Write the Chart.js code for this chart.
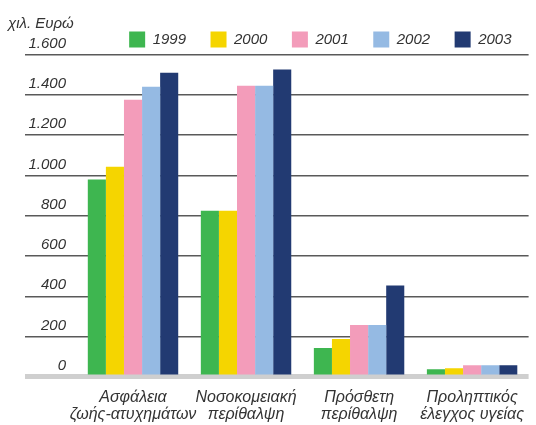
<!DOCTYPE html>
<html>
<head>
<meta charset="utf-8">
<script src="https://cdn.jsdelivr.net/npm/chart.js@4/dist/chart.umd.min.js"></script>
<style>
  html, body { margin: 0; padding: 0; background: #fff; }
  #wrap { width: 536px; height: 425px; position: relative; }
</style>
</head>
<body>
<div id="wrap"><canvas id="c"></canvas></div>
<script>
const categories = [
  ["Ασφάλεια", "ζωής-ατυχημάτων"],
  ["Νοσοκομειακή", "περίθαλψη"],
  ["Πρόσθετη", "περίθαλψη"],
  ["Προληπτικός", "έλεγχος υγείας"]
];
const years = ["1999", "2000", "2001", "2002", "2003"];
const values1999 = [980, 825, 143, 38];
const values2000 = [1043, 825, 188, 43];
const values2001 = [1375, 1445, 258, 58];
const values2002 = [1440, 1445, 258, 58];
const values2003 = [1510, 1525, 453, 58];
const yTicks = [0, 200, 400, 600, 800, 1000, 1200, 1400, 1600];
const unitLabel = "χιλ. Ευρώ";

const colors = ["#3eb650", "#f5d500", "#f39cba", "#95bae3", "#223a72"];
const seriesValues = [values1999, values2000, values2001, values2002, values2003];

const fontFamily = "'Liberation Sans', Arial, Helvetica, sans-serif";
const textColor = "#333333";

function formatThousands(v) {
  return String(v).replace(/\B(?=(\d{3})+(?!\d))/g, ".");
}

const unitPlugin = {
  id: "unitLabel",
  afterDraw(chart) {
    const ctx = chart.ctx;
    ctx.save();
    ctx.font = "italic 15px " + fontFamily;
    ctx.fillStyle = textColor;
    ctx.textAlign = "left";
    ctx.textBaseline = "middle";
    ctx.fillText(unitLabel, 8, chart.chartArea.top - 31);
    ctx.restore();
  }
};

new Chart(document.getElementById("c"), {
  type: "bar",
  data: {
    labels: categories,
    datasets: years.map((y, i) => ({
      label: y,
      data: seriesValues[i],
      backgroundColor: colors[i],
      borderWidth: 0,
      categoryPercentage: 0.8,
      barPercentage: 1.0
    }))
  },
  options: {
    responsive: true,
    maintainAspectRatio: false,
    animation: false,
    layout: { padding: { top: 7, bottom: -9.5, left: 0, right: 0 } },
    plugins: {
      tooltip: { enabled: false },
      title: { display: false },
      legend: {
        position: "top",
        align: "end",
        maxHeight: 47.5,
        labels: {
          boxWidth: 16,
          boxHeight: 16,
          padding: 24.5,
          color: textColor,
          font: { family: fontFamily, size: 15, style: "italic" }
        }
      }
    },
    scales: {
      x: {
        grid: { display: false, drawTicks: false },
        border: { display: false },
        ticks: {
          padding: 12,
          color: textColor,
          maxRotation: 0,
          autoSkip: false,
          font: { family: fontFamily, size: 16, style: "italic", lineHeight: 1.05 }
        }
      },
      y: {
        z: 1,
        min: 0,
        max: 1600,
        afterFit(scale) { scale.width = 76.5; },
        afterBuildTicks(scale) { scale.ticks = yTicks.map(v => ({ value: v })); },
        border: { display: false },
        grid: {
          drawTicks: true,
          tickLength: 51.5,
          color: c => (c.tick && c.tick.value === 0) ? "#cfcfcf" : "rgba(0,0,0,0.65)",
          lineWidth: c => (c.tick && c.tick.value === 0) ? 5 : 1.5
        },
        ticks: {
          padding: -41,
          labelOffset: -11,
          color: textColor,
          font: { family: fontFamily, size: 15, style: "italic" },
          callback: v => formatThousands(v)
        }
      }
    }
  },
  plugins: [unitPlugin]
});
</script>
</body>
</html>
